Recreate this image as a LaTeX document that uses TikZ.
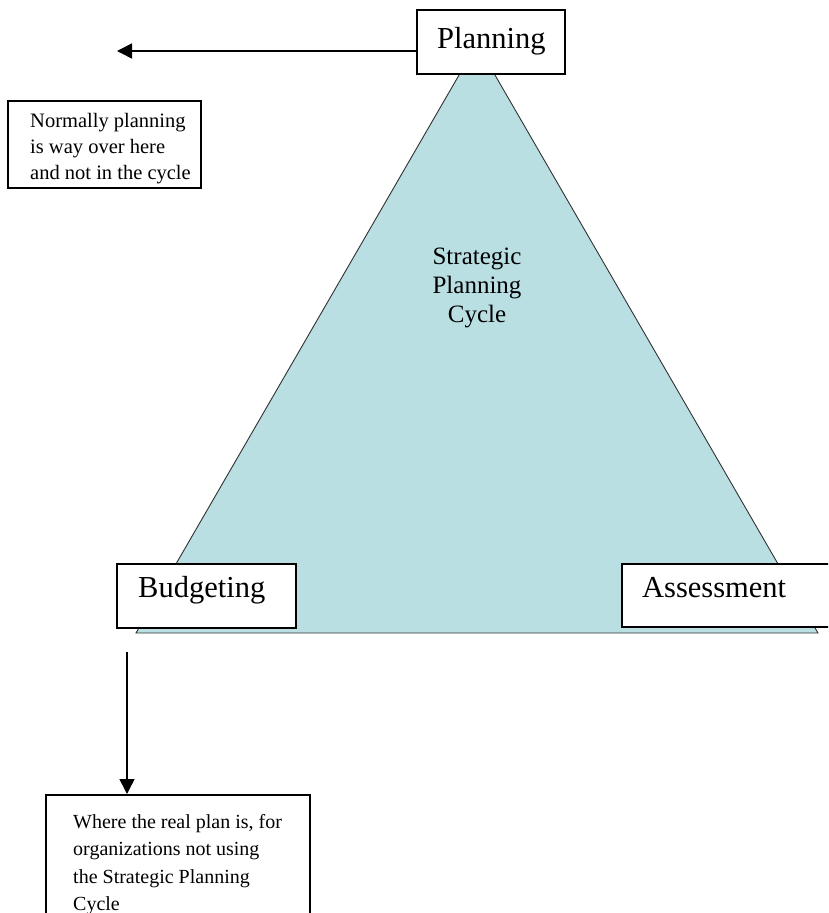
\documentclass[tikz,border=0pt]{standalone}
\usepackage{fontspec}
\setmainfont{Liberation Serif}
\usetikzlibrary{arrows.meta}
\definecolor{trifill}{RGB}{185,223,227}
\definecolor{triline}{RGB}{50,50,50}
\begin{document}
\begin{tikzpicture}[x=1pt,y=-1pt,
  box/.style={draw=black,line width=1.9pt,fill=white,inner sep=0pt,anchor=north west},
  lbl/.style={inner sep=0pt,anchor=base west},
  big/.style={font=\fontsize{30.5}{36}\selectfont},
  arr/.style={line width=1.5pt,-{Triangle[length=15pt,width=15pt]}}]
\useasboundingbox (0,0) rectangle (828,913);
\clip (0,0) rectangle (828,913);
% triangle
\coordinate (tA) at (477,44);
\coordinate (tB) at (136,633);
\coordinate (tC) at (818,633);
\filldraw[fill=trifill,draw=triline,line width=0.9pt] (tA) -- (tB) -- (tC) -- cycle;
% boxes
\node[box,minimum width=148pt,minimum height=64pt] (plan) at (416,9) {};
\node[box,minimum width=193pt,minimum height=87pt] (note) at (7,100) {};
\node[box,minimum width=179pt,minimum height=64pt] (bud) at (116,563) {};
\node[box,minimum width=230pt,minimum height=63pt] (assess) at (621,563) {};
\node[box,minimum width=264pt,minimum height=150pt] (real) at (45,794) {};
% texts
\node[lbl,big] (plantext) at (437,48) {Planning};
\node[lbl,big] (budtext) at (138,597) {Budgeting};
\node[lbl,big] (assesstext) at (642,597) {Assessment};
\node[lbl] (notetext) at (30,127) {\parbox[t]{170pt}{\raggedright\fontsize{20.5}{26}\selectfont Normally planning\\is way over here\\and not in the cycle}};
\node[inner sep=0pt,anchor=base] (cycletext) at (477,264) {\parbox[t]{120pt}{\centering\fontsize{25}{29}\selectfont Strategic\\Planning\\Cycle}};
\node[lbl] (realtext) at (73,828) {\parbox[t]{230pt}{\raggedright\fontsize{20}{27.5}\selectfont Where the real plan is, for\\organizations not using\\the Strategic Planning\\Cycle}};
% arrows
\coordinate (planArrowEnd) at (117,51);
\draw[arr] (plan.west |- planArrowEnd) -- (planArrowEnd);
\coordinate (budArrowStart) at (127,652);
\draw[arr] (budArrowStart) -- (budArrowStart |- real.north);
\end{tikzpicture}
\end{document}
